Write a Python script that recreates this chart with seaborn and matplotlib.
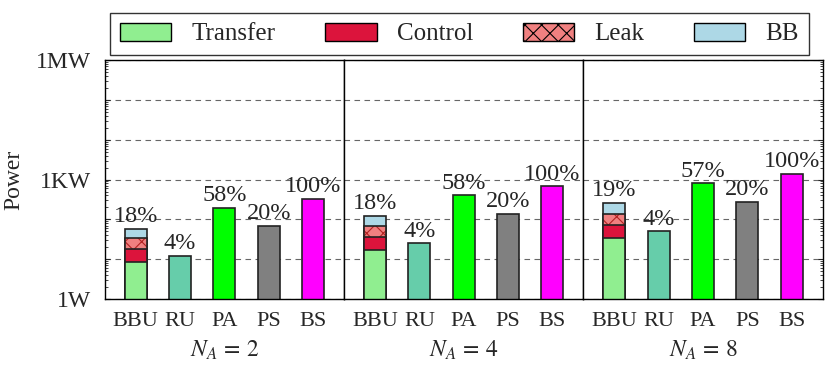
import numpy as np
import pandas as pd
import matplotlib
matplotlib.use("Agg")
import matplotlib.pyplot as plt
import matplotlib.ticker as mticker
import seaborn as sns

# dati (W)
antennas = [2, 4, 8]
categories = ["BBU", "RU", "PA", "PS", "BS"]
transfer = [8.7, 17.5, 35.0]
control = [9.8, 19.0, 39.4]
leak = [15.3, 31.3, 66.6]
bb = [25.2, 55.2, 121.0]
ru = [12.3, 25.3, 50.7]
pa = [196.0, 400.0, 802.0]
ps = [69.0, 141.0, 282.0]
bs = [335.0, 690.0, 1408.0]
pct_labels = [["18%", "4%", "58%", "20%", "100%"],
              ["18%", "4%", "58%", "20%", "100%"],
              ["19%", "4%", "57%", "20%", "100%"]]

colors = {"Transfer": "#90EE90", "Control": "#DC143C", "Leak": "#F08080", "BB": "#ADD8E6",
          "RU": "#66CDAA", "PA": "#00FF00", "PS": "#808080", "BS": "#FF00FF"}

sns.set_style("white")
plt.rcParams["font.family"] = ["Liberation Serif", "DejaVu Serif"]
plt.rcParams["mathtext.fontset"] = "stix"
plt.rcParams["hatch.linewidth"] = 0.8

fig, axes = plt.subplots(1, 3, figsize=(8.31, 3.73), dpi=100, sharey=True)
fig.subplots_adjust(left=0.126, right=0.990, top=0.839, bottom=0.198, wspace=0)

bw = 0.5
edge = "#222222"
for i, ax in enumerate(axes):
    bbu_top = transfer[i] + control[i] + leak[i] + bb[i]
    totals = [bbu_top, ru[i], pa[i], ps[i], bs[i]]
    df = pd.DataFrame({"cat": categories, "val": totals})
    pal = [colors["BB"], colors["RU"], colors["PA"], colors["PS"], colors["BS"]]
    sns.barplot(data=df, x="cat", y="val", hue="cat", palette=pal, order=categories,
                width=bw, saturation=1, edgecolor=edge, linewidth=1.2, legend=False, ax=ax)
    # strati BBU impilati (cumulativi, disegnati dall'alto verso il basso)
    leak_cum = transfer[i] + control[i] + leak[i]
    sns.barplot(x=["BBU"], y=[leak_cum], order=categories, color=colors["Leak"], saturation=1,
                width=bw, edgecolor="#B22222", linewidth=0, hatch="xx", ax=ax)
    sns.barplot(x=["BBU"], y=[leak_cum], order=categories, fill=False,
                width=bw, edgecolor=edge, linewidth=1.2, ax=ax)
    sns.barplot(x=["BBU"], y=[transfer[i] + control[i]], order=categories, color=colors["Control"],
                saturation=1, width=bw, edgecolor=edge, linewidth=1.2, ax=ax)
    sns.barplot(x=["BBU"], y=[transfer[i]], order=categories, color=colors["Transfer"],
                saturation=1, width=bw, edgecolor=edge, linewidth=1.2, ax=ax)

    ax.set_yscale("log")
    ax.set_ylim(1, 1e6)
    ax.set_xlim(-0.7, 4.7)
    for j, v in enumerate(totals):
        ax.annotate(pct_labels[i][j], (j, v), xytext=(0, 1), textcoords="offset points",
                    ha="center", va="bottom", fontsize=17.5)
    ax.yaxis.grid(True, which="major", linestyle=(0, (5, 4)), color="#666666", linewidth=0.8)
    ax.set_axisbelow(True)
    ax.set_xlabel(f"$N_A\\,=\\,{antennas[i]}$", fontsize=17, labelpad=6)
    ax.set_ylabel("")
    ax.tick_params(axis="x", length=0, labelsize=16, pad=9)
    ax.tick_params(axis="y", which="both", direction="in", left=(i == 0), right=(i == 2))
    for s in ax.spines.values():
        s.set_color("black")
        s.set_linewidth(1.0)

axes[0].yaxis.set_major_locator(mticker.LogLocator(base=10, numticks=10))
axes[0].yaxis.set_minor_locator(mticker.LogLocator(base=10, subs=np.arange(2, 10), numticks=100))
names = {1: "1W", 1e3: "1KW", 1e6: "1MW"}
axes[0].yaxis.set_major_formatter(mticker.FuncFormatter(lambda v, p: names.get(round(v, 6), "")))
axes[0].yaxis.set_minor_formatter(mticker.NullFormatter())
axes[0].tick_params(axis="y", labelsize=17, pad=10)
axes[0].set_ylabel("Power", fontsize=17, labelpad=8)

handles = [plt.Rectangle((0, 0), 1, 1, facecolor=colors["Transfer"], edgecolor="black"),
           plt.Rectangle((0, 0), 1, 1, facecolor=colors["Control"], edgecolor="black"),
           plt.Rectangle((0, 0), 1, 1, facecolor=colors["Leak"], edgecolor="black", hatch="xx"),
           plt.Rectangle((0, 0), 1, 1, facecolor=colors["BB"], edgecolor="black")]
fig.legend(handles, ["Transfer", "Control", "Leak", "BB"], loc="upper center",
           bbox_to_anchor=(0.553, 1.0), ncol=4, fontsize=18, frameon=True, fancybox=False,
           edgecolor="black", handlelength=2.05, handleheight=0.75, columnspacing=2.0,
           borderpad=0.4, handletextpad=0.8)

plt.savefig("out.png", dpi=100)
